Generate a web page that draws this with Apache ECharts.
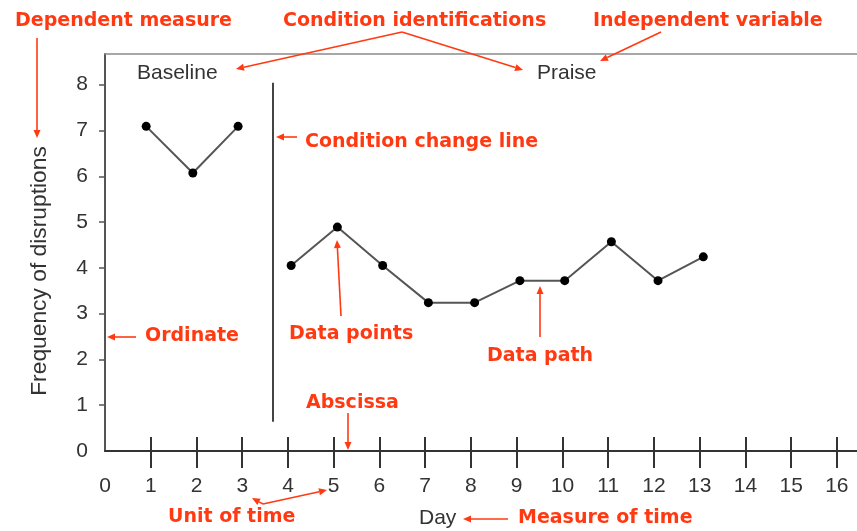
<!DOCTYPE html>
<html>
<head>
<meta charset="utf-8">
<script src="https://cdn.jsdelivr.net/npm/echarts@6/dist/echarts.min.js"></script>
<style>
html,body{margin:0;padding:0;background:#fff;}
#chart{width:857px;height:531px;}
</style>
</head>
<body>
<div id="chart"></div>
<script>
// ---- data ----
var baselineDays = [0.9, 1.92, 2.91];
var baselineValues = [7.09, 6.07, 7.09];
var praiseDays = [4.07, 5.08, 6.07, 7.07, 8.08, 9.07, 10.05, 11.07, 12.09, 13.08];
var praiseValues = [4.05, 4.89, 4.05, 3.24, 3.24, 3.72, 3.72, 4.57, 3.72, 4.24];
var xTickLabels = [0,1,2,3,4,5,6,7,8,9,10,11,12,13,14,15,16];
var xTicks = [1,2,3,4,5,6,7,8,9,10,11,12,13,14,15,16];
var yTickLabels = [0,1,2,3,4,5,6,7,8];
var yTicks = [1,2,3,4,5,6,7,8];
var conditionChangeX = 3.66;
var conditionChangeRange = [0.64, 8.04];
var conditionNames = ['Baseline', 'Praise'];
var yAxisTitle = 'Frequency of disruptions';
var xAxisTitle = 'Day';

var RED = '#ff3a12';
var GREY = '#333';
var redFont = 'bold 19px "DejaVu Sans"';

function rtext(s, x, y) {
  return {type:'text', x:x, y:y, silent:true, z:50,
    style:{text:s, font:redFont, fill:RED, textVerticalAlign:'middle', textAlign:'left'}};
}
function gtext(s, x, y, size) {
  return {type:'text', x:x, y:y, silent:true, z:50,
    style:{text:s, font:(size||21)+'px "Liberation Sans", Arial, sans-serif', fill:GREY, textVerticalAlign:'middle', textAlign:'left'}};
}
function arrow(x1, y1, x2, y2) {
  var dx = x2 - x1, dy = y2 - y1, L = Math.sqrt(dx*dx + dy*dy);
  var ux = dx / L, uy = dy / L, hl = 8, hw = 3.5;
  var bx = x2 - ux*hl, by = y2 - uy*hl;
  return [
    {type:'line', silent:true, z:50, shape:{x1:x1, y1:y1, x2:bx, y2:by}, style:{stroke:RED, lineWidth:1.6}},
    {type:'polygon', silent:true, z:50, shape:{points:[[x2,y2],[bx - uy*hw, by + ux*hw],[bx + uy*hw, by - ux*hw]]}, style:{fill:RED}}
  ];
}

var graphics = [
  rtext('Dependent measure', 15, 21),
  rtext('Condition identifications', 283, 21),
  rtext('Independent variable', 593, 21),
  rtext('Condition change line', 305, 142),
  rtext('Ordinate', 145, 336),
  rtext('Data points', 289, 334),
  rtext('Data path', 487, 356),
  rtext('Abscissa', 306, 403),
  rtext('Unit of time', 168, 517),
  rtext('Measure of time', 518, 518),
  gtext(xAxisTitle, 419, 518),
  gtext(conditionNames[0], 137, 73),
  gtext(conditionNames[1], 537, 73),
  {type:'text', x:40, y:271, rotation:Math.PI/2, silent:true, z:50,
   style:{text:yAxisTitle, font:'22.8px "Liberation Sans", Arial, sans-serif', fill:GREY, textVerticalAlign:'middle', textAlign:'center'}}
];
graphics = graphics.concat(
  arrow(37, 38, 37, 138),
  arrow(402, 32, 236, 69),
  arrow(402, 32, 523, 70),
  arrow(661, 32, 600, 61),
  arrow(297, 137, 276, 137),
  arrow(136, 337, 107, 337),
  arrow(341, 316, 337, 240),
  arrow(540, 337, 540, 286),
  arrow(348, 413, 348, 450),
  arrow(263, 504, 252, 498),
  arrow(263, 504, 327, 490),
  arrow(508, 519, 463, 519)
);

var labelFont = {fontFamily:'"Liberation Sans", Arial, sans-serif', fontSize:21, color:GREY};

var chart = echarts.init(document.getElementById('chart'), null, {renderer:'canvas'});
chart.setOption({
  animation:false,
  backgroundColor:'#fff',
  grid:{left:105, right:0, top:54, bottom:80, containLabel:false},
  xAxis:[
    {type:'value', min:0, max:16.44, position:'bottom',
     axisLine:{show:true, lineStyle:{color:'#333', width:2}},
     axisTick:{show:true, customValues:xTicks, length:17, lineStyle:{color:'#333', width:2}},
     axisLabel:Object.assign({show:true, customValues:xTickLabels, margin:25}, labelFont),
     splitLine:{show:false}},
    {type:'value', min:0, max:16.44, position:'bottom',
     axisLine:{show:false},
     axisTick:{show:true, inside:true, customValues:xTicks, length:14, lineStyle:{color:'#333', width:2}},
     axisLabel:{show:false}, splitLine:{show:false}},
    {type:'value', min:0, max:16.44, position:'top',
     axisLine:{show:true, lineStyle:{color:'#8a8a8a', width:1.5}},
     axisTick:{show:false}, axisLabel:{show:false}, splitLine:{show:false}}
  ],
  yAxis:{type:'value', min:0, max:8.67,
    axisLine:{show:true, lineStyle:{color:'#555', width:2}},
    axisTick:{show:true, customValues:yTicks, length:6, lineStyle:{color:'#555', width:1.5}},
    axisLabel:Object.assign({show:true, customValues:yTickLabels, margin:17}, labelFont),
    splitLine:{show:false}},
  series:[
    {type:'line', name:conditionNames[0], xAxisIndex:0,
     data:baselineDays.map(function(d,i){return [d, baselineValues[i]];}),
     symbol:'circle', symbolSize:9, itemStyle:{color:'#000'},
     lineStyle:{color:'#555', width:2}, z:5},
    {type:'line', name:conditionNames[1], xAxisIndex:0,
     data:praiseDays.map(function(d,i){return [d, praiseValues[i]];}),
     symbol:'circle', symbolSize:9, itemStyle:{color:'#000'},
     lineStyle:{color:'#555', width:2}, z:5,
     markLine:{silent:true, symbol:'none', label:{show:false},
       lineStyle:{color:'#444', width:2, type:'solid'},
       data:[[{coord:[conditionChangeX, conditionChangeRange[0]]},{coord:[conditionChangeX, conditionChangeRange[1]]}]]}}
  ],
  graphic:graphics
});
</script>
</body>
</html>
